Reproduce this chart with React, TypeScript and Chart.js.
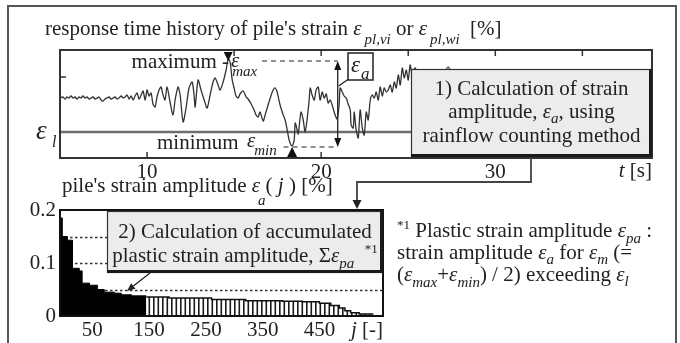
import React, { useEffect, useRef } from 'react';
import { Chart, registerables } from 'chart.js';

Chart.register(...registerables);

const FONT = "'Liberation Serif', 'Times New Roman', serif";
const INK = '#222';
const FS = 21;

// ---------- top panel: response time history of pile's strain ----------
const timeSec = [
  5.00, 5.17, 5.29, 5.40, 5.52, 5.63, 5.75, 5.86, 5.98, 6.09, 6.21, 6.32, 6.44, 6.55, 6.67, 6.78, 6.90, 7.01, 7.13, 7.24,
  7.36, 7.47, 7.59, 7.70, 7.82, 7.93, 8.05, 8.16, 8.28, 8.39, 8.51, 8.62, 8.74, 8.85, 8.97, 9.08, 9.20, 9.31,
  9.43, 9.54, 9.66, 9.77, 9.89, 10.00, 10.11, 10.23, 10.34, 10.46, 10.57, 10.69, 10.80, 10.92, 11.03, 11.15,
  11.32, 11.49, 11.61, 11.78, 11.90, 12.07, 12.24, 12.41, 12.59, 12.70, 12.76, 12.93, 13.10, 13.28, 13.45, 13.62,
  13.79, 13.91, 14.08, 14.20, 14.37, 14.54, 14.66, 14.77, 14.89, 15.00, 15.11, 15.23, 15.34,
  15.52, 15.69, 15.80, 15.98, 16.15, 16.26, 16.38, 16.49, 16.67, 16.78, 16.95, 17.13, 17.24, 17.36, 17.47, 17.64,
  17.82, 17.93, 18.05, 18.16, 18.33,
  18.45, 18.51, 18.62, 18.68, 18.79, 18.85, 18.97, 19.08, 19.20, 19.31, 19.37, 19.48, 19.60, 19.71, 19.83, 19.94,
  20.06, 20.17, 20.29, 20.40, 20.52, 20.63, 20.80, 20.92, 21.03,
  21.09, 21.21, 21.32, 21.44, 21.55, 21.67, 21.72, 21.84, 21.90, 22.01, 22.13, 22.24, 22.36, 22.47, 22.59, 22.70,
  22.82, 22.93,
  23.05, 23.16, 23.28, 23.39, 23.51, 23.62, 23.74, 23.85, 23.97, 24.08, 24.20, 24.31, 24.43, 24.54, 24.66, 24.77,
  24.89, 25.00, 25.11, 25.23, 25.40, 25.69, 26.26, 26.84, 27.30, 27.70,
];
const strainValue = [
  0, 0.1, -0.1, 0.1, 0, 0.2, 0, 0.1, -0.1, 0.1, 0, 0.2, 0, 0.1, -0.1, 0, 0.1, -0.1, 0, 0.1,
  -0.2, -0.3, -0.1, 0, 0.1, -0.1, 0, 0.1, -0.1, 0, 0.2, 0, 0.1, 0.3, -0.1, 0.2, -0.2, 0.2,
  0.5, -0.1, 0.3, 0.7, -0.2, 0.8, 0.2, 0.5, -0.6, -0.9, 0.1, 0.8, 1.1, 0.3, -0.2, 1.1,
  -0.4, -1.7, -0.2, 1.1, 0.3, -2.4, -1.0, 1.0, 1.6, 0.3, -0.9, 1.8, 0.8, -0.2, -1.0, 0.3,
  1.6, 2.0, 1.3, 0.8, 1.6, 2.8, 3.9, 3.6, 1.8, 1.0, 0.2, 0, 0.4,
  0.7, 0.1, -0.1, -0.6, -1.2, -1.7, -1.9, -1.4, -2.3, -1.7, -0.7, 0.3, 0.8, 1.0, 0.6, -0.7,
  -1.7, -2.2, -3.2, -4.2, -4.8,
  -4.2, -2.5, -3.2, -3.6, -2.0, -1.4, -2.2, -3.4, -2.0, -0.2, 1.0, 0.3, -0.2, 0.8, 1.1, -0.2,
  0.6, 0, 0.4, -0.5, -0.2, -0.7, -1.7, -2.1, -0.7,
  1.0, 0.6, 0.2, 0, -0.6, -1.2, -2.7, -3.0, -1.4, -3.2, -4.0, -1.2, -3.0, -3.7, -1.4, -2.2,
  -0.2, 0.3,
  0, 0.6, -0.2, 1.1, 0.2, 1.0, 0.6, 0.8, 1.3, 0.6, 1.6, 1.0, 2.3, 1.3, 3.0, 2.0,
  2.8, 1.8, 3.3, 2.3, 3.0, 1.8, 2.6, 1.8, 3.1, 1.3,
];
const timeTicks = [10, 20, 30];
const timeTopTicks = [15, 20, 25, 30, 35];
const strainSideTicks = [2.1];
const elasticLimit = -3.4;
const strainMax = 3.7;
const strainMin = -4.9;
const maxTime = 14.66;
const minTime = 18.33;
const amplitudeTime = 20.95;
const maxDashFrom = 16.6;
const minDashFrom = 17.84;

// ---------- bottom panel: sorted strain amplitude ----------
const rankTicks = [50, 150, 250, 350, 450];
const ampTicks = [0, 0.1, 0.2];
const ampGuides = [0.05, 0.1, 0.15];
const plasticRank = [-7, -3, 6, 15, 27, 32, 45, 59, 71, 89, 101, 119, 145];
const plasticAmp = [0.185, 0.15, 0.143, 0.09, 0.085, 0.062, 0.058, 0.05, 0.045, 0.043, 0.04, 0.038, 0.038];
const otherRank = [145, 185, 260, 320, 385, 420, 450, 470, 485, 495, 505, 520, 545];
const otherAmp = [0.036, 0.034, 0.031, 0.029, 0.028, 0.027, 0.024, 0.02, 0.015, 0.01, 0.006, 0.004, 0.004];

type Seg = { t: string; f?: 'n' | 'i' | 's' | 'p'; dy?: number; dx?: number };

function fontOf(f: string, size: number) {
  if (f === 'i') return `italic ${size}px ${FONT}`;
  if (f === 's') return `italic ${Math.round(size * 0.72)}px ${FONT}`;
  if (f === 'p') return `${Math.round(size * 0.62)}px ${FONT}`;
  return `${size}px ${FONT}`;
}

function drawRich(ctx: CanvasRenderingContext2D, segs: Seg[], x: number, y: number, align: string, size: number) {
  let total = 0;
  for (const s of segs) {
    ctx.font = fontOf(s.f || 'n', size);
    total += ctx.measureText(s.t).width + (s.dx || 0);
  }
  let cx = align === 'center' ? x - total / 2 : align === 'right' ? x - total : x;
  ctx.textBaseline = 'alphabetic';
  ctx.textAlign = 'left';
  ctx.fillStyle = INK;
  for (const s of segs) {
    const f = s.f || 'n';
    ctx.font = fontOf(f, size);
    const dy = s.dy !== undefined ? s.dy : f === 's' ? size * 0.3 : f === 'p' ? -size * 0.38 : 0;
    cx += s.dx || 0;
    ctx.fillText(s.t, cx, y + dy);
    cx += ctx.measureText(s.t).width;
  }
}

function line(ctx: CanvasRenderingContext2D, x1: number, y1: number, x2: number, y2: number) {
  ctx.beginPath();
  ctx.moveTo(x1, y1);
  ctx.lineTo(x2, y2);
  ctx.stroke();
}

function tri(ctx: CanvasRenderingContext2D, x1: number, y1: number, x2: number, y2: number, x3: number, y3: number) {
  ctx.beginPath();
  ctx.moveTo(x1, y1);
  ctx.lineTo(x2, y2);
  ctx.lineTo(x3, y3);
  ctx.closePath();
  ctx.fill();
}

function arrowTo(ctx: CanvasRenderingContext2D, x1: number, y1: number, x2: number, y2: number, len: number, half: number) {
  const ang = Math.atan2(y2 - y1, x2 - x1);
  const bx = x2 - len * Math.cos(ang);
  const by = y2 - len * Math.sin(ang);
  line(ctx, x1, y1, bx, by);
  const nx = -Math.sin(ang) * half;
  const ny = Math.cos(ang) * half;
  tri(ctx, bx + nx, by + ny, bx - nx, by - ny, x2, y2);
}

function callout(ctx: CanvasRenderingContext2D, x1: number, y1: number, x2: number, y2: number) {
  ctx.fillStyle = '#ececec';
  ctx.fillRect(x1, y1, x2 - x1, y2 - y1);
  ctx.strokeStyle = '#333';
  ctx.lineWidth = 1.2;
  ctx.strokeRect(x1 + 0.5, y1 + 0.5, x2 - x1 - 1, y2 - y1 - 1);
  ctx.strokeStyle = '#1a1a1a';
  ctx.lineWidth = 3;
  line(ctx, x2 - 1.5, y1, x2 - 1.5, y2);
  line(ctx, x1, y2 - 1.5, x2, y2 - 1.5);
}

const topDecor = {
  id: 'topDecor',
  beforeDatasetsDraw(chart: any) {
    const { ctx, chartArea: a, scales } = chart;
    const py = scales.y.getPixelForValue(elasticLimit);
    ctx.save();
    ctx.strokeStyle = '#6e6e6e';
    ctx.lineWidth = 2.4;
    line(ctx, a.left, py, a.right, py);
    ctx.restore();
  },
  afterDatasetsDraw(chart: any) {
    const { ctx, chartArea: a, scales } = chart;
    const x = scales.x;
    const y = scales.y;
    ctx.save();
    ctx.strokeStyle = '#333';
    ctx.lineWidth = 2;
    ctx.strokeRect(a.left, a.top, a.right - a.left, a.bottom - a.top);
    ctx.lineWidth = 1.5;
    for (const t of timeTopTicks) {
      const px = x.getPixelForValue(t);
      line(ctx, px, a.top, px, a.top + 6);
    }
    for (const t of timeTicks) {
      const px = x.getPixelForValue(t);
      line(ctx, px, a.bottom, px, a.bottom - 6);
    }
    for (const v of strainSideTicks) {
      const py = y.getPixelForValue(v);
      line(ctx, a.left, py, a.left + 6, py);
    }

    const xa = x.getPixelForValue(amplitudeTime);
    const yMax = y.getPixelForValue(strainMax);
    const yMin = y.getPixelForValue(strainMin);
    ctx.strokeStyle = '#222';
    ctx.lineWidth = 1.2;
    ctx.setLineDash([5, 4]);
    line(ctx, x.getPixelForValue(maxDashFrom), yMax, xa, yMax);
    line(ctx, x.getPixelForValue(minDashFrom), yMin, xa, yMin);
    ctx.setLineDash([]);

    const xMx = x.getPixelForValue(maxTime);
    const xMn = x.getPixelForValue(minTime);
    ctx.fillStyle = '#111';
    tri(ctx, xMx - 4.5, yMax - 9, xMx + 4.5, yMax - 9, xMx, yMax);
    tri(ctx, xMn - 5, yMin + 10, xMn + 5, yMin + 10, xMn, yMin);

    ctx.lineWidth = 1.3;
    line(ctx, xa, yMax + 6, xa, yMin - 6);
    tri(ctx, xa - 3.5, yMax + 9, xa + 3.5, yMax + 9, xa, yMax);
    tri(ctx, xa - 3.5, yMin - 9, xa + 3.5, yMin - 9, xa, yMin);

    // eps_a callout
    line(ctx, xa + 1, 86, 350, 78);
    ctx.fillStyle = '#fff';
    ctx.fillRect(348, 53, 25, 27);
    ctx.strokeStyle = '#222';
    ctx.lineWidth = 1.5;
    ctx.strokeRect(348, 53, 25, 27);
    drawRich(ctx, [{ t: 'ε', f: 'i' }, { t: 'a', f: 's', dy: 7, dx: 1 }], 351, 72, 'left', 23);

    // max / min labels
    drawRich(ctx, [{ t: 'maximum -' }], 229, 68, 'right', FS);
    drawRich(ctx, [{ t: 'ε', f: 'i' }, { t: 'max', f: 's', dy: 9, dx: -7 }], 231, 67, 'left', FS);
    drawRich(ctx, [{ t: 'minimum' }], 157, 149, 'left', FS);
    drawRich(ctx, [{ t: 'ε', f: 'i' }, { t: 'min', f: 's', dy: 8, dx: -1 }], 247, 147, 'left', FS);

    // callout 1
    callout(ctx, 411, 69, a.right, 157);
    const cx1 = (411 + a.right) / 2;
    drawRich(ctx, [{ t: '1) Calculation of strain' }], cx1, 95, 'center', FS);
    drawRich(ctx, [{ t: 'amplitude, ' }, { t: 'ε', f: 'i' }, { t: 'a', f: 's', dy: 5 }, { t: ', using' }], cx1, 118, 'center', FS);
    drawRich(ctx, [{ t: 'rainflow counting method' }], cx1, 142, 'center', FS);

    // connector to callout 2
    ctx.strokeStyle = '#444';
    ctx.fillStyle = '#222';
    ctx.lineWidth = 1.8;
    ctx.beginPath();
    ctx.moveTo(531, 157);
    ctx.lineTo(531, 182);
    ctx.lineTo(357, 182);
    ctx.lineTo(357, 201);
    ctx.stroke();
    tri(ctx, 352.5, 200, 361.5, 200, 357, 209);

    // title and axis labels
    drawRich(
      ctx,
      [
        { t: "response time history of pile's strain " },
        { t: 'ε', f: 'i' },
        { t: 'pl,vi', f: 's', dy: 9, dx: 3 },
        { t: ' or ' },
        { t: 'ε', f: 'i' },
        { t: 'pl,wi', f: 's', dy: 9, dx: 3 },
        { t: '  [%]' },
      ],
      45,
      35,
      'left',
      FS
    );
    drawRich(ctx, [{ t: 'ε', f: 'i' }], 36, 139, 'left', 27);
    drawRich(ctx, [{ t: 'l', f: 'i' }], 52, 147, 'left', 16);
    drawRich(ctx, [{ t: 't', f: 'i' }, { t: ' [s]' }], a.right, 177, 'right', FS);

    // outer frame
    ctx.strokeStyle = '#555';
    ctx.lineWidth = 2;
    ctx.strokeRect(8, 6, 668, 350);
    ctx.restore();
  },
};

const bottomDecor = {
  id: 'bottomDecor',
  beforeDatasetsDraw(chart: any) {
    const { ctx, chartArea: a, scales } = chart;
    ctx.save();
    ctx.strokeStyle = '#333';
    ctx.lineWidth = 1.3;
    ctx.setLineDash([2.5, 2.5]);
    for (const v of ampGuides) {
      const py = Math.round(scales.y.getPixelForValue(v)) + 0.5;
      line(ctx, a.left, py, a.right, py);
    }
    ctx.restore();
  },
  afterDatasetsDraw(chart: any) {
    const { ctx, chartArea: a } = chart;
    ctx.save();
    ctx.strokeStyle = '#111';
    ctx.lineWidth = 2;
    ctx.strokeRect(a.left, a.top, a.right - a.left, a.bottom - a.top);

    callout(ctx, 107, 211, a.right, 273);
    const cx2 = (107 + a.right) / 2;
    drawRich(ctx, [{ t: '2) Calculation of accumulated' }], cx2, 238, 'center', FS);
    drawRich(
      ctx,
      [{ t: 'plastic strain amplitude, Σ' }, { t: 'ε', f: 'i' }, { t: 'pa', f: 's', dy: 6 }, { t: '  ' }, { t: '*1', f: 'p', dy: -9 }],
      cx2,
      262,
      'center',
      FS
    );
    ctx.strokeStyle = '#222';
    ctx.fillStyle = '#222';
    ctx.lineWidth = 1.3;
    arrowTo(ctx, 150, 273, 127, 291, 8, 3.5);

    drawRich(
      ctx,
      [{ t: "pile's strain amplitude " }, { t: 'ε', f: 'i' }, { t: 'a', f: 's', dy: 13, dx: -2 }, { t: '( ' }, { t: 'j', f: 'i' }, { t: ' ) [%]' }],
      62,
      192,
      'left',
      FS
    );
    drawRich(ctx, [{ t: 'j', f: 'i' }, { t: ' [-]' }], a.right, 336, 'right', FS);

    const nx = 397;
    drawRich(ctx, [{ t: '*1', f: 'p' }, { t: ' Plastic strain amplitude ' }, { t: 'ε', f: 'i' }, { t: 'pa', f: 's', dy: 6 }, { t: ' :' }], nx, 237, 'left', FS);
    drawRich(
      ctx,
      [{ t: 'strain amplitude ' }, { t: 'ε', f: 'i' }, { t: 'a', f: 's', dy: 5 }, { t: ' for ' }, { t: 'ε', f: 'i' }, { t: 'm', f: 's', dy: 5 }, { t: ' (=' }],
      nx,
      259,
      'left',
      FS
    );
    drawRich(
      ctx,
      [
        { t: '(' },
        { t: 'ε', f: 'i' },
        { t: 'max', f: 's', dy: 6 },
        { t: '+' },
        { t: 'ε', f: 'i' },
        { t: 'min', f: 's', dy: 6 },
        { t: ') / 2) exceeding ' },
        { t: 'ε', f: 'i' },
        { t: 'l', f: 's', dy: 5 },
      ],
      nx,
      281,
      'left',
      FS
    );
    ctx.restore();
  },
};

function zeroPad(s: any) {
  s.paddingLeft = 0;
  s.paddingRight = 0;
  s.paddingTop = 0;
  s.paddingBottom = 0;
}

export default function App() {
  const topRef = useRef<HTMLCanvasElement>(null);
  const botRef = useRef<HTMLCanvasElement>(null);

  useEffect(() => {
    const tickFont = { family: FONT, size: FS };
    const n = Math.min(timeSec.length, strainValue.length);
    const wave = [];
    for (let i = 0; i < n; i++) wave.push({ x: timeSec[i], y: strainValue[i] });

    const top = new Chart(topRef.current as HTMLCanvasElement, {
      type: 'line',
      data: {
        datasets: [
          {
            data: wave,
            borderColor: '#333',
            borderWidth: 1.3,
            pointRadius: 0,
            tension: 0.25,
            fill: false,
          },
        ],
      },
      options: {
        animation: false,
        responsive: false,
        events: [],
        layout: { padding: { left: 60, right: 28, top: 50, bottom: 163 } },
        plugins: { legend: { display: false }, tooltip: { enabled: false } },
        scales: {
          x: {
            type: 'linear',
            min: 5,
            max: 39,
            grid: { display: false, drawTicks: false },
            border: { display: false },
            afterBuildTicks: (s: any) => {
              s.ticks = timeTicks.map((v) => ({ value: v }));
            },
            afterFit: (s: any) => {
              s.height = 22;
              zeroPad(s);
            },
            ticks: { font: tickFont, color: INK, padding: 2, autoSkip: false, maxRotation: 0 },
          },
          y: { type: 'linear', min: -6, max: 4.8, display: false },
        },
      } as any,
      plugins: [topDecor],
    });

    const bctx = (botRef.current as HTMLCanvasElement).getContext('2d') as CanvasRenderingContext2D;
    const pc = document.createElement('canvas');
    pc.width = 9;
    pc.height = 4;
    const pg = pc.getContext('2d') as CanvasRenderingContext2D;
    pg.fillStyle = '#fff';
    pg.fillRect(0, 0, 9, 4);
    pg.fillStyle = '#1a1a1a';
    pg.fillRect(0, 0, 1.6, 4);
    pg.fillRect(4.5, 0, 1.6, 4);
    const hatch = bctx.createPattern(pc, 'repeat');

    const bottom = new Chart(botRef.current as HTMLCanvasElement, {
      type: 'line',
      data: {
        datasets: [
          {
            data: plasticRank.map((j, i) => ({ x: j, y: plasticAmp[i] })),
            stepped: true,
            fill: 'origin',
            backgroundColor: '#000',
            borderColor: '#000',
            borderWidth: 1,
            pointRadius: 0,
          },
          {
            data: otherRank.map((j, i) => ({ x: j, y: otherAmp[i] })),
            stepped: true,
            fill: 'origin',
            backgroundColor: hatch,
            borderColor: '#111',
            borderWidth: 1.5,
            pointRadius: 0,
          },
        ],
      },
      options: {
        animation: false,
        responsive: false,
        events: [],
        layout: { padding: { left: 0, right: 297, top: 210, bottom: 3 } },
        plugins: { legend: { display: false }, tooltip: { enabled: false } },
        scales: {
          x: {
            type: 'linear',
            min: -7,
            max: 562,
            grid: { display: false, drawTicks: false },
            border: { display: false },
            afterBuildTicks: (s: any) => {
              s.ticks = rankTicks.map((v) => ({ value: v }));
            },
            afterFit: (s: any) => {
              s.height = 24;
              zeroPad(s);
            },
            ticks: { font: tickFont, color: INK, padding: 2, autoSkip: false, maxRotation: 0 },
          },
          y: {
            type: 'linear',
            min: 0,
            max: 0.2,
            grid: { display: false, drawTicks: false },
            border: { display: false },
            afterBuildTicks: (s: any) => {
              s.ticks = ampTicks.map((v) => ({ value: v }));
            },
            afterFit: (s: any) => {
              s.width = 60;
              zeroPad(s);
            },
            ticks: { font: tickFont, color: INK, padding: 4, callback: (v: any) => String(v) },
          },
        },
      } as any,
      plugins: [bottomDecor],
    });

    return () => {
      top.destroy();
      bottom.destroy();
    };
  }, []);

  return (
    <div style={{ position: 'fixed', left: 0, top: 0, width: 680, height: 343, background: '#fff', overflow: 'hidden' }}>
      <canvas ref={topRef} width={680} height={343} style={{ position: 'absolute', left: 0, top: 0 }} />
      <canvas ref={botRef} width={680} height={343} style={{ position: 'absolute', left: 0, top: 0 }} />
    </div>
  );
}
